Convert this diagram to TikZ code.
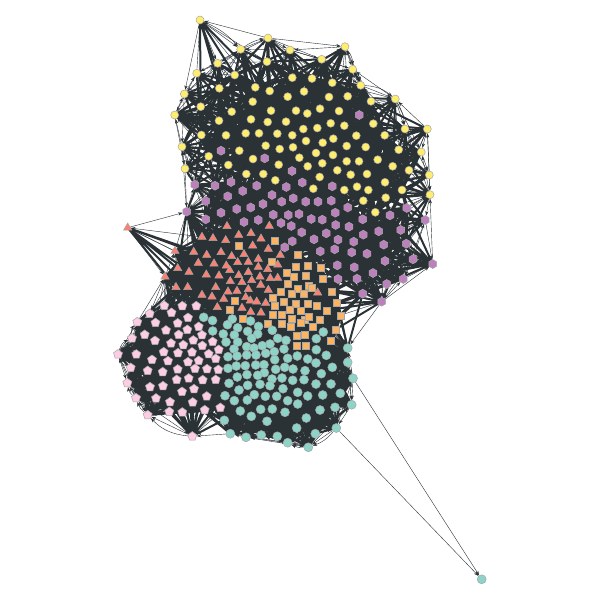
\documentclass[tikz,border=0pt]{standalone}
\usepackage{tikz}
\usetikzlibrary{arrows.meta, positioning, shapes.geometric, backgrounds}

\definecolor{yelfill}{HTML}{FFED6F}
\definecolor{purfill}{HTML}{BC80BD}
\definecolor{corfill}{HTML}{FB8072}
\definecolor{orafill}{HTML}{FDB462}
\definecolor{teafill}{HTML}{8DD3C7}
\definecolor{pinfill}{HTML}{FCCDE5}
\definecolor{edgegray}{HTML}{2B3236}
\definecolor{rimgray}{HTML}{A6A6A6}

\tikzset{
    member/.style={draw=rimgray, line width=0.5pt, inner sep=0pt},
    grp1/.style={member, circle, fill=yelfill, minimum size=8pt},
    grp2/.style={member, regular polygon, regular polygon sides=6, shape border rotate=30, fill=purfill, minimum size=9pt},
    grp3/.style={member, regular polygon, regular polygon sides=3, fill=corfill, minimum size=9.5pt},
    grp4/.style={member, rectangle, fill=orafill, minimum size=7pt},
    grp5/.style={member, circle, fill=teafill, minimum size=9pt},
    grp6/.style={member, regular polygon, regular polygon sides=5, fill=pinfill, minimum size=9.5pt},
    edgeline/.style={line width=0.6pt},
    coreline/.style={line width=3.4pt},
    hullline/.style={line width=2pt},
    tipline/.style={-{Stealth[length=4.5pt, width=3.2pt]}},
}

\newcount\nodecnt
\newcommand\addnode[6]{%
    \global\advance\nodecnt by 1
    \node[grp#6] (n\the\nodecnt) at (#1,#2) {};
    \pgfmathtruncatemacro\ix{#1}
    \pgfmathtruncatemacro\iy{#2}
    \expandafter\xdef\csname nx\the\nodecnt\endcsname{\ix}
    \expandafter\xdef\csname ny\the\nodecnt\endcsname{\iy}
    \expandafter\xdef\csname nr\the\nodecnt\endcsname{#3}
    \expandafter\xdef\csname nc\the\nodecnt\endcsname{#4}
    \expandafter\xdef\csname nb\the\nodecnt\endcsname{#5}
    \expandafter\xdef\csname ng\the\nodecnt\endcsname{#6}
}
\newcommand\tryedge[2]{%
    \ifnum\csname ng#1\endcsname=\csname ng#2\endcsname \def\which{nr}\else \def\which{nc}\fi
    \edef\reach{\csname\which#1\endcsname}
    \ifnum#2>\hullcnt\else
        \ifnum\csname\which#2\endcsname<\reach \edef\reach{\csname\which#2\endcsname}\fi
    \fi
    \edef\dsq{\the\numexpr(\csname nx#1\endcsname-\csname nx#2\endcsname)*(\csname nx#1\endcsname-\csname nx#2\endcsname)
        +(\csname ny#1\endcsname-\csname ny#2\endcsname)*(\csname ny#1\endcsname-\csname ny#2\endcsname)\relax}
    \ifnum\dsq<\numexpr\reach*\reach\relax
        \ifnum#1>\hullcnt
            \xdef\fanpath{\fanpath (n#1.center)--(n#2.center)}
        \else
            \ifnum#2>\hullcnt
                \ifnum\numexpr(#1+#2)/3*3\relax=\numexpr#1+#2\relax
                    \draw[tipline] (n#2.center) -- (n#1);
                \else
                    \xdef\fanpath{\fanpath (n#1.center)--(n#2.center)}
                \fi
            \else
                \ifodd\numexpr#1+#2\relax
                    \draw[tipline] (n#1) -- (n#2);
                \else
                    \draw[tipline] (n#2) -- (n#1);
                \fi
            \fi
        \fi
    \fi
}

\begin{document}
\begin{tikzpicture}[x=1pt, y=-1pt]
    \useasboundingbox (0,0) rectangle (600,600);

    % outline of the whole cloud, clockwise: x/y/reach/cross reach/bend/group
    \foreach \px/\py/\pr/\pc/\pb/\pg in {
        200/20/100/30/0/1, 240.7/49.3/72/30/12/1, 268/38/78/30/12/1, 290/50/72/30/0/1,
        321.7/59.3/72/30/0/1, 345/46.7/78/30/0/1, 352.7/69.3/68/30/18/1, 360.7/85.3/68/30/18/1,
        395.3/99/70/30/18/1, 405/129/70/30/12/1, 427.3/129/70/30/8/1, 421.3/152/70/30/0/1,
        429.3/175/70/30/0/1, 430/194.7/70/72/0/1,
        425.3/220/70/45/0/2, 432.7/264/85/72/0/2, 413/259.3/70/40/0/2, 403.3/279/70/40/0/2,
        386.7/284/70/45/0/2, 381.7/301.7/70/62/0/2,
        347.7/348/70/62/0/5, 347.7/362.3/70/40/0/5, 353/378.3/70/30/0/5, 351.7/404.7/70/30/0/5,
        336.3/428/70/30/0/5, 308.3/447.3/70/30/15/5, 287.7/442.7/70/30/15/5, 277.3/436.3/70/30/15/5,
        261.3/435/70/30/15/5, 246/437.3/70/30/10/5, 230.3/433.7/70/50/0/5,
        192.3/436.3/72/60/0/6, 147.7/415/70/30/20/6, 136/398/70/30/15/6, 127.3/383/70/30/20/6,
        130.7/367.7/70/30/0/6, 118/354.3/70/30/25/6, 132/338.3/70/30/25/6, 137.3/322/70/55/25/6,
        149.7/313.7/70/55/0/6, 164.3/305.7/70/50/0/6,
        165/276.7/70/55/0/3, 175/251/70/48/0/3, 127.7/227.7/85/66/0/3,
        186.7/211.7/70/70/0/2, 194.7/184.7/70/50/0/2,
        185/168.7/70/50/0/1, 182/146.7/70/70/0/1, 174.7/115/98/60/0/1, 184.3/94/78/30/0/1,
        196.7/73.3/70/30/0/1, 217.7/63.3/70/30/0/1}
        {\addnode{\px}{\py}{\pr}{\pc}{\pb}{\pg}}
    \edef\hullcnt{\the\nodecnt}

    \foreach \px/\py in {
        267/61.7, 234.7/75, 292.3/77.7, 312/78.5, 332.3/82.7, 219.3/88.3, 255.3/87.3, 269.7/91, 304/91.5,
        329/97, 347.7/96.3, 287.7/96.7, 252.7/101.7, 371/101.3, 200.7/106.7, 271/110.7, 296/110.7,
        307.3/113.5, 320/108.7, 339/111, 231.7/111.7, 251/119.3, 219/120.7, 267.7/122, 286/121.7,
        330.7/123.3, 344.3/125.7, 373.3/123.7, 303.3/129, 317.3/128, 245.7/133.3, 259/133.3, 277.3/133.7,
        292.3/135.3, 226/135.3, 201.3/135, 356.3/135.7, 384.7/135.3, 306/141, 322.7/142.7, 333.3/138.7,
        265.7/145.7, 279.7/149, 293/147.3, 346.7/146, 365.7/147, 398.7/149.7, 239.3/150.7, 208.7/156.3,
        299.3/157.7, 253/159, 316/153, 333/155, 377.7/159.7, 359/161.3, 346.7/161.3, 322.3/163.3,
        278.7/164.7, 228.3/165, 307.7/166.3, 392.7/166.3, 337.3/170.3, 409/170.3, 246.3/174, 263.3/174,
        350.7/174.7, 367/174, 275.3/180.3, 319.7/177, 385/182.3, 357/186.7, 313.3/188.7, 344.3/190,
        368.3/190, 402/190, 385.7/197.7, 363.3/200.7, 375.3/212.3}
        {\addnode{\px}{\py}{52}{32}{0}{1}}

    \foreach \px/\py in {
        221/150.7, 264.7/158.3, 292/171, 359.3/115, 215/185.7, 231/182, 256.7/185.7, 242.7/191, 286.3/187,
        302.3/182.5, 332.3/186.3, 272/195, 227.7/196.3, 205.7/201, 293.3/198.3, 281.7/201.7, 305.7/201.7,
        318/201.7, 331.3/200.7, 263/204, 250.7/207.5, 236.7/209, 347.8/207.5, 406.8/208, 221/212.7,
        273.3/214.7, 288.3/215, 299/214, 335.3/212.7, 390/215.3, 205.7/219.3, 244/222, 258.3/220, 281/223,
        311.3/219, 322.3/219.7, 362.7/219.3, 291.3/226, 335.7/225, 349/226.7, 400.7/230, 378.7/231.3,
        301.7/232.3, 326.3/233.3, 363.3/234.7, 338/239.7, 314/239.3, 292.3/241.3, 353.7/241.7, 406.3/243.7,
        383.7/244.7, 284.7/247.3, 334.7/249.3, 320.3/251.3, 351.7/252.3, 367/253.7, 385/261, 337.3/265.3,
        354.3/267.3, 373/273, 338/279, 357/278.7, 362.7/293.7}
        {\addnode{\px}{\py}{52}{32}{0}{2}}

    \foreach \px/\py in {
        227/226.3, 269.3/226, 202/237, 213/238.3, 238.7/235, 251/233.3, 225.7/240.3, 261/238.7, 252.7/245.7,
        268.3/249, 193.7/252, 221/252.3, 206.7/255, 244/254.3, 231.7/256.3, 280.3/255, 258.3/259, 198.3/263,
        214/263.7, 237.7/262.3, 248.3/262, 226.3/265.7, 277.7/264.7, 258.3/267, 177.7/268.3, 189/272,
        229.7/270.3, 248.3/272.3, 267.7/269.3, 206.3/274.7, 219/275.7, 238.7/275.3, 260/276.7, 270.3/278.3,
        277.7/278, 230.3/281.3, 242/282.3, 251.7/280.3, 260.7/285, 176/287.3, 187.7/287.3, 215.7/287.3,
        202/295, 228/291.7, 237/291, 248.3/289.3, 268.3/290, 212/296.7, 245.7/297.3, 223.7/299, 250.3/300.7,
        256.7/301.7, 265.7/303, 217.3/307.3, 242/308, 250.7/312, 261/312.7, 317.7/292.7}
        {\addnode{\px}{\py}{52}{32}{0}{3}}

    \foreach \px/\py in {
        238.3/245.7, 275/240.7, 297.5/255.2, 271.3/262, 286.3/272.8, 295.3/266.7, 307.5/265.5, 293.9/276.6,
        305.3/275.5, 320.3/267.3, 322.3/279, 287.3/284.2, 281.2/292, 297.5/288.3, 308.7/285.3, 311.7/287.7,
        291.3/294.2, 303.8/293.4, 331.3/291.3, 273/298, 234.7/301, 284/301.6, 295.6/303.4, 275/305.7,
        307.3/303.7, 316.3/306, 337/303, 229.3/310, 289.5/309.7, 300.3/310.7, 326.7/310.5, 272.3/315,
        281.7/315.2, 292.2/318.9, 304.3/319.3, 309/316.3, 319.8/319.5, 340.3/315.3, 243/318.3, 268/324,
        281.7/324, 290.3/327, 300.5/322.9, 312.3/327, 335.7/329.3, 296.5/335.8, 305/335, 330.7/341,
        296.7/345.5, 305.7/346}
        {\addnode{\px}{\py}{52}{32}{0}{4}}

    \foreach \px/\py in {
        203.7/317.3, 212.5/320.5, 232.3/319, 227.5/324.7, 250.5/321, 237.7/327.8, 258.5/326.4, 272.3/330.3,
        247.7/331.3, 212.7/331, 223.3/334, 234.3/335, 257.7/334, 323.3/332, 251.7/338.3, 277.7/338.3, 286/340.3,
        316.3/338.7, 226/342, 237.7/342, 270/344, 262.3/345.7, 246.7/346.7, 254/348, 234/349, 284/349,
        316.3/349.7, 274.3/351.7, 265.7/353.3, 228/356.7, 237/356, 246.7/355, 256/355, 297.3/356,
        326.3/355.3, 287.7/358.3, 307.7/359, 274.7/359.7, 316/363, 264/364.7, 255.7/365, 245.3/365.7,
        236.3/366, 228/368.3, 284.7/367.3, 293/369, 275.7/369.3, 332.3/367.3, 305/370.7, 264.3/372.7,
        257.7/375.3, 247/374.7, 237.3/377, 321.3/373.7, 282/378, 272/379, 292.7/380.3, 304/379.7, 229/383.3,
        247.7/385.3, 260/384.3, 270/385.7, 316/384, 331/384, 239/390, 283/388.7, 225/395.7, 254.3/394.7,
        265.3/396.3, 276.7/396.3, 297.7/392.3, 307.7/396, 322.7/395, 340.3/393.3, 234.3/400.7, 247.3/400,
        287.7/400.7, 297.7/404, 335/407.3, 320/410, 260.7/409.3, 272.3/409, 240.3/411, 285/412.3, 251.3/416.3,
        306.3/418, 224.3/420.3, 267/421.3, 296.7/428, 315.3/433.7}
        {\addnode{\px}{\py}{52}{32}{0}{5}}

    \foreach \px/\py in {
        182.3/306, 196.3/306, 171.5/312.7, 188/317.7, 155.5/322.8, 177.7/323.2, 198.7/326.7, 166/330.3,
        187.3/329.7, 144.7/334.7, 178.7/334.7, 202/335, 155/340.7, 193.3/340.3, 212.7/341.7, 171/343.3,
        183.3/345, 202.3/345.7, 218.7/349.7, 163.7/352, 178/353, 192/352.3, 208.7/354, 136.3/354.3, 215.7/358.7,
        152/359.7, 168/361, 198.7/360.7, 188/362, 147.7/370.7, 162.7/372, 177.7/369.3, 195/368.7, 207/369,
        218.3/369.7, 176.7/379.7, 188.7/378.3, 202.7/380, 215.7/379.7, 150/387, 163/386, 182/391.7, 194/389,
        156/398.3, 206.7/396.3, 170/402, 192.7/402.3, 169.3/411.7, 182.3/412.3, 204.7/410, 220.3/407.7}
        {\addnode{\px}{\py}{52}{32}{0}{6}}

    \node[grp5] (far) at (481.7,579.3) {};

    \edef\lastnode{\the\numexpr\nodecnt-1\relax}
    \begin{scope}[on background layer, edgeline]
        \pgfsetcolor{edgegray}
        \foreach \a in {1,...,\lastnode}{
            \edef\nxt{\the\numexpr\a+1\relax}
            \gdef\fanpath{}
            \foreach \b in {\nxt,...,\nodecnt}{\tryedge{\a}{\b}}
            \ifnum\a>\hullcnt
                \draw[coreline] \fanpath;
            \else
                \draw[hullline] \fanpath;
            \fi
        }
        \foreach \a [remember=\a as \prev (initially 1)] in {2,...,\hullcnt}{
            \ifnum\csname nb\a\endcsname>0
                \draw[tipline] (n\prev) to[bend left=\csname nb\a\endcsname] (n\a);
            \fi
        }
        \draw[tipline] (n23) -- (far);
        \draw[tipline] (n25) -- (far);
    \end{scope}
\end{tikzpicture}
\end{document}
